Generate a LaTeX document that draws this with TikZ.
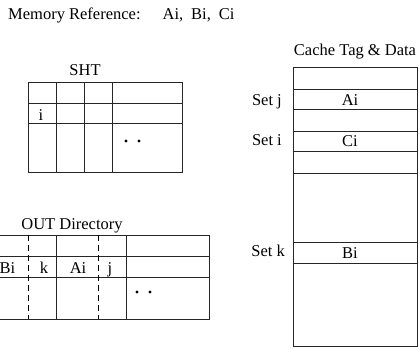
\documentclass[tikz,border=0pt]{standalone}
\usepackage{fontspec}
\setmainfont{Liberation Serif}
\begin{document}
\begin{tikzpicture}[x=1pt,y=-1pt,
  grid/.style={draw=black!85,line width=1pt},
  dashline/.style={draw=black,line width=1pt,dash pattern=on 6pt off 4pt},
  lbl/.style={inner sep=0pt,anchor=base,font=\fontsize{16.5}{18}\selectfont},
  dotmark/.style={circle,fill=black,inner sep=0pt,minimum size=3.2pt}]
\useasboundingbox (0,0) rectangle (419,348);
% title
\node[lbl,anchor=base west] (title) at (8,19) {Memory Reference:\hspace{22pt}Ai,\hspace{8pt}Bi,\hspace{8pt}Ci};
% SHT
\node[lbl] (shtlbl) at (85,75) {SHT};
\draw[grid] (28,82) rectangle (182,172);
\draw[grid] (28,103) -- (182,103) (28,123) -- (182,123);
\draw[grid] (56,82) -- (56,172) (84,82) -- (84,172) (112,82) -- (112,172);
\node[lbl] (shti) at (41,120) {i};
\node[dotmark] (sd1) at (126,141) {};
\node[dotmark] (sd2) at (139,141) {};
% OUT directory
\node[lbl] (outlbl) at (72,229) {OUT Directory};
\draw[grid] (-2,235) -- (209,235) -- (209,319) -- (-2,319);
\draw[grid] (-2,256) -- (209,256) (-2,277) -- (209,277);
\draw[grid] (56,235) -- (56,319) (126,235) -- (126,319);
\draw[dashline] (28,235) -- (28,319) (98,235) -- (98,319);
\node[lbl] (obi) at (7.5,273) {Bi};
\node[lbl] (ok) at (44,273) {k};
\node[lbl] (oai) at (78,273) {Ai};
\node[lbl] (oj) at (110,273) {j};
\node[dotmark] (od1) at (137,292) {};
\node[dotmark] (od2) at (150,292) {};
% cache
\node[lbl] (cachelbl) at (355,55) {Cache Tag \& Data};
\draw[grid] (293,67) rectangle (417,346);
\draw[grid] (293,89) -- (417,89) (293,109) -- (417,109)
            (293,131) -- (417,131) (293,151) -- (417,151)
            (293,173) -- (417,173) (293,242) -- (417,242)
            (293,263) -- (417,263);
\node[lbl] (cai) at (350,105.5) {Ai};
\node[lbl] (cci) at (350,146) {Ci};
\node[lbl] (cbi) at (350,258.5) {Bi};
\node[lbl,anchor=base east] (setj) at (282,105) {Set j};
\node[lbl,anchor=base east] (seti) at (282,145) {Set i};
\node[lbl,anchor=base east] (setk) at (285,256) {Set k};
\end{tikzpicture}
\end{document}
